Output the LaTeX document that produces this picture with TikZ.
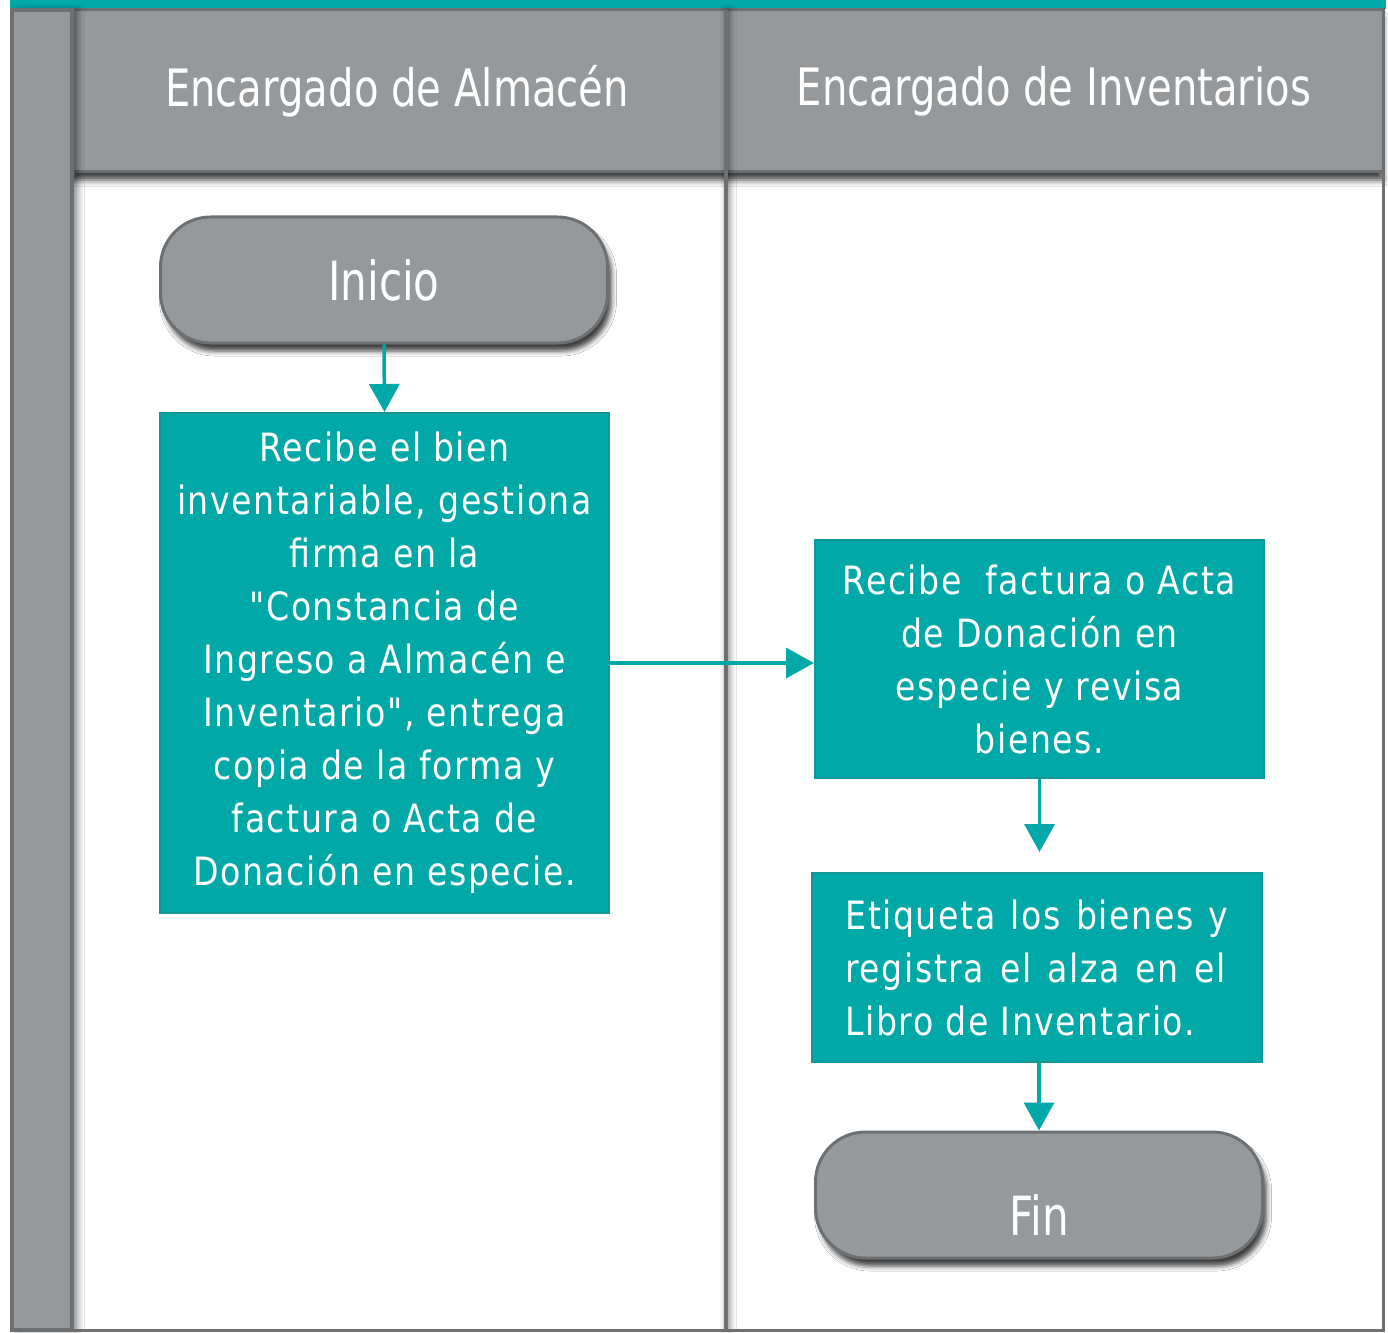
\documentclass[tikz,border=0pt]{standalone}
\usepackage{fontspec}
\newfontfamily\hfont[FakeStretch=0.78]{DejaVu Sans}
\newfontfamily\bfont[FakeStretch=0.85,LetterSpace=4]{DejaVu Sans}
\usetikzlibrary{arrows.meta,shadows.blur,calc}
\definecolor{teal0}{RGB}{0,168,168}
\definecolor{tealedge}{RGB}{18,150,150}
\definecolor{gfill}{RGB}{150,153,156}
\definecolor{gdark}{RGB}{108,112,115}
\begin{document}
\begin{tikzpicture}[x=1pt,y=-1pt,
  terminal/.style={draw=gdark, line width=3pt, fill=gfill, rounded corners=50pt,
    minimum width=447pt, minimum height=126pt, inner sep=0pt, text=white,
    font=\hfont\fontsize{54}{60}\selectfont,
    blur shadow={shadow xshift=4pt, shadow yshift=-8pt, shadow blur radius=5pt, shadow opacity=75}},
  process/.style={draw=tealedge, line width=2pt, fill=teal0, inner sep=0pt, text=white,
    font=\bfont\fontsize{39}{53}\selectfont, align=center},
  flow/.style={draw=teal0, line width=3.5pt, -{Triangle[length=28pt,width=30pt]}},
  lanehead/.style={text=white, font=\hfont\fontsize{51.5}{60}\selectfont},
  frameline/.style={draw=gdark, line width=4pt}
]
\fill[white] (0,0) rectangle (1388,1332);
\useasboundingbox (0,0) rectangle (1388,1332);

% top teal bar
\fill[teal0] (10,0) rectangle (1386,9);

% header band
\path[fill=gfill, draw=gdark, line width=3pt,
  blur shadow={shadow xshift=0pt, shadow yshift=-8pt, shadow blur radius=6pt, shadow opacity=75}]
  (72,10) rectangle (1383,172);

% lane divider with soft shadow
\path[fill=gdark, blur shadow={shadow xshift=2pt, shadow yshift=0pt, shadow blur radius=6pt, shadow opacity=45}]
  (724,10) rectangle (728,1330);

% left column
\path[fill=gfill, draw=gdark, line width=4pt,
  blur shadow={shadow xshift=6pt, shadow yshift=0pt, shadow blur radius=6pt, shadow opacity=45}]
  (12,10) rectangle (72,1330);

% right and bottom borders
\draw[frameline, line width=3pt] (1383,172) -- (1383,1330);
\draw[frameline, line width=3pt] (10,1330) -- (1385,1330);
\draw[frameline] (72,10) -- (72,1330);

% lane headers
\node[lanehead] (h1) at (397,91) {Encargado de Almacén};
\node[lanehead] (h2) at (1054,91) {Encargado de Inventarios};

% flow nodes
\node[terminal] (inicio) at (384,280) {Inicio};
\node[process, minimum width=449pt, minimum height=500pt] (b1) at (384.5,663)
  {Recibe el bien\\inventariable, gestiona\\firma en la\\"Constancia de\\Ingreso a Almacén e\\Inventario", entrega\\copia de la forma y\\factura o Acta de\\Donación en especie.};
\node[process, minimum width=449pt, minimum height=238pt] (b2) at (1039.5,659)
  {Recibe\ \ factura o Acta\\de Donación en\\especie y revisa\\bienes.};
\node[process, minimum width=450pt, minimum height=189pt, align=left] (b3) at (1037,967.5)
  {\makebox[383pt][s]{Etiqueta los bienes y}\\\makebox[380pt][s]{registra el alza en el}\\Libro de Inventario.};
\node[terminal] (fin) at (1039,1195) {\raisebox{-20pt}[\height][0pt]{Fin}};

% connectors
\draw[flow] (inicio.south) -- (b1.north);
\draw[flow] (b1.east) -- (b1.east -| b2.west);
\draw[flow, shorten >=20pt] (b2.south) -- (b2.south |- b3.north);
\draw[flow] (fin.north |- b3.south) -- (fin.north);
\end{tikzpicture}
\end{document}
